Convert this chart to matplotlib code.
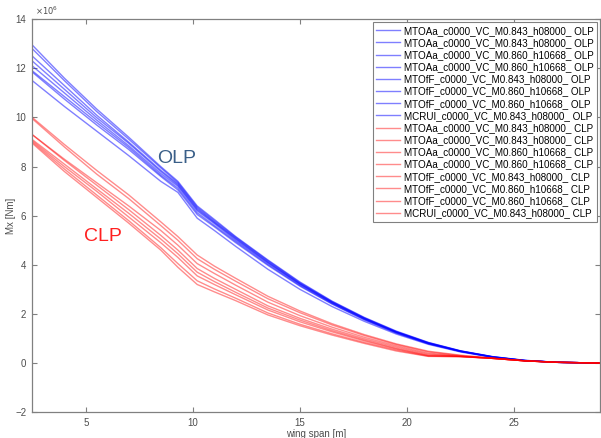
import matplotlib
matplotlib.use("Agg")
from matplotlib import pyplot as plt

plt.rcParams['font.family'] = ['Liberation Sans', 'DejaVu Sans']

# wing span stations [m]
span = [2.5, 4, 5.5, 7, 8.5, 9.3, 10.2, 11, 12, 13.5, 15, 16.5, 18, 19.5, 21, 22.5, 24, 25.5, 27, 29]

# bending moment Mx [x1e6 Nm], open loop
olp_1 = [12.95, 11.6, 10.35, 9.2, 8.0, 7.4, 6.4, 5.85, 5.15, 4.2, 3.3, 2.52, 1.86, 1.3, 0.84, 0.5, 0.26, 0.11, 0.03, 0]
olp_2 = [12.8, 11.5, 10.25, 9.12, 7.95, 7.35, 6.35, 5.8, 5.12, 4.17, 3.27, 2.5, 1.84, 1.28, 0.83, 0.49, 0.26, 0.11, 0.03, 0]
olp_3 = [12.5, 11.3, 10.1, 9.0, 7.85, 7.3, 6.3, 5.75, 5.08, 4.13, 3.24, 2.48, 1.83, 1.27, 0.82, 0.49, 0.25, 0.1, 0.03, 0]
olp_4 = [12.3, 11.15, 10.0, 8.95, 7.8, 7.25, 6.25, 5.72, 5.05, 4.1, 3.22, 2.46, 1.81, 1.26, 0.81, 0.48, 0.25, 0.1, 0.03, 0]
olp_5 = [12.1, 11.0, 9.9, 8.85, 7.72, 7.2, 6.2, 5.68, 5.0, 4.07, 3.2, 2.45, 1.8, 1.25, 0.8, 0.48, 0.25, 0.1, 0.03, 0]
olp_6 = [11.9, 10.85, 9.8, 8.78, 7.65, 7.12, 6.12, 5.6, 4.95, 4.02, 3.16, 2.42, 1.78, 1.23, 0.79, 0.47, 0.24, 0.1, 0.03, 0]
olp_7 = [11.85, 10.75, 9.7, 8.7, 7.6, 7.05, 6.05, 5.55, 4.9, 3.98, 3.13, 2.4, 1.76, 1.22, 0.78, 0.47, 0.24, 0.1, 0.03, 0]
olp_8 = [11.5, 10.45, 9.45, 8.45, 7.4, 6.95, 5.9, 5.4, 4.75, 3.82, 3.0, 2.3, 1.7, 1.18, 0.76, 0.45, 0.23, 0.1, 0.03, 0]

# closed loop
clp_1 = [10.0, 8.9, 7.85, 6.85, 5.75, 5.15, 4.4, 3.95, 3.45, 2.72, 2.12, 1.6, 1.16, 0.78, 0.48, 0.32, 0.2, 0.09, 0.03, 0]
clp_2 = [9.95, 8.8, 7.7, 6.7, 5.6, 5.0, 4.25, 3.82, 3.33, 2.62, 2.05, 1.55, 1.12, 0.75, 0.45, 0.3, 0.2, 0.09, 0.03, 0]
clp_3 = [9.3, 8.3, 7.35, 6.4, 5.4, 4.8, 4.05, 3.65, 3.17, 2.48, 1.93, 1.46, 1.05, 0.7, 0.4, 0.28, 0.19, 0.09, 0.03, 0]
clp_4 = [9.3, 8.25, 7.25, 6.25, 5.2, 4.6, 3.85, 3.45, 3.0, 2.33, 1.82, 1.38, 0.99, 0.65, 0.36, 0.27, 0.19, 0.09, 0.03, 0]
clp_5 = [9.1, 8.1, 7.1, 6.1, 5.05, 4.45, 3.7, 3.32, 2.88, 2.24, 1.75, 1.32, 0.94, 0.6, 0.32, 0.27, 0.19, 0.09, 0.03, 0]
clp_6 = [9.05, 8.0, 7.0, 5.95, 4.9, 4.3, 3.55, 3.2, 2.78, 2.16, 1.68, 1.27, 0.9, 0.57, 0.3, 0.27, 0.19, 0.09, 0.03, 0]
clp_7 = [9.0, 7.9, 6.85, 5.8, 4.7, 4.05, 3.35, 3.02, 2.64, 2.04, 1.58, 1.19, 0.84, 0.53, 0.28, 0.26, 0.19, 0.09, 0.03, 0]
clp_8 = [8.95, 7.8, 6.75, 5.7, 4.6, 3.9, 3.2, 2.9, 2.54, 1.96, 1.52, 1.14, 0.8, 0.49, 0.27, 0.26, 0.19, 0.09, 0.03, 0]

cases = ["MTOAa_c0000_VC_M0.843_h08000_",
         "MTOAa_c0000_VC_M0.843_h08000_",
         "MTOAa_c0000_VC_M0.860_h10668_",
         "MTOAa_c0000_VC_M0.860_h10668_",
         "MTOfF_c0000_VC_M0.843_h08000_",
         "MTOfF_c0000_VC_M0.860_h10668_",
         "MTOfF_c0000_VC_M0.860_h10668_",
         "MCRUI_c0000_VC_M0.843_h08000_"]

olp = [olp_1, olp_2, olp_3, olp_4, olp_5, olp_6, olp_7, olp_8]
clp = [clp_1, clp_2, clp_3, clp_4, clp_5, clp_6, clp_7, clp_8]

fig = plt.figure(figsize=(6.01, 4.38), dpi=100)
ax = fig.add_axes([0.053, 0.059, 0.945, 0.897])

for name, mx in zip(cases, olp):
    ax.plot(span, mx, color='#0000ff', alpha=0.5, lw=1.0, label=name + " OLP")
for name, mx in zip(cases, clp):
    ax.plot(span, mx, color='#ff0000', alpha=0.45, lw=1.0, label=name + " CLP")

ax.set_xlim(2.48, 29)
ax.set_ylim(-2, 14)
ax.set_xticks([5, 10, 15, 20, 25])
ax.set_yticks(range(-2, 15, 2))

grey = '#808080'
for s in ax.spines.values():
    s.set_color(grey)
    s.set_linewidth(0.9)
ax.tick_params(direction='in', length=3.5, width=0.8, color=grey, labelcolor='#4d4d4d',
               labelsize=7, top=True, right=True, pad=4)

ax.set_xlabel("wing span [m]", fontsize=7, color='#4d4d4d', labelpad=1)
ax.set_ylabel("Mx [Nm]", fontsize=7, color='#4d4d4d', va='center')
ax.yaxis.set_label_coords(-0.036, 0.5)
ax.text(0.005, 1.005, r"$\times10^6$", transform=ax.transAxes, fontsize=6, color='#4d4d4d',
        va='bottom', ha='left')

ax.text(9.25, 8.35, "OLP", fontsize=14, color='#3a5f88', ha='center', va='center')
ax.text(5.8, 5.15, "CLP", fontsize=14, color='#ff2020', ha='center', va='center')

leg = ax.legend(loc='upper right', fontsize=7.1, frameon=True, fancybox=False,
                edgecolor=grey, framealpha=1, borderaxespad=0.3, handlelength=2.4,
                labelspacing=0.22, borderpad=0.35, handletextpad=0.4)
leg.get_frame().set_linewidth(0.8)

fig.savefig("out.png", dpi=100)
